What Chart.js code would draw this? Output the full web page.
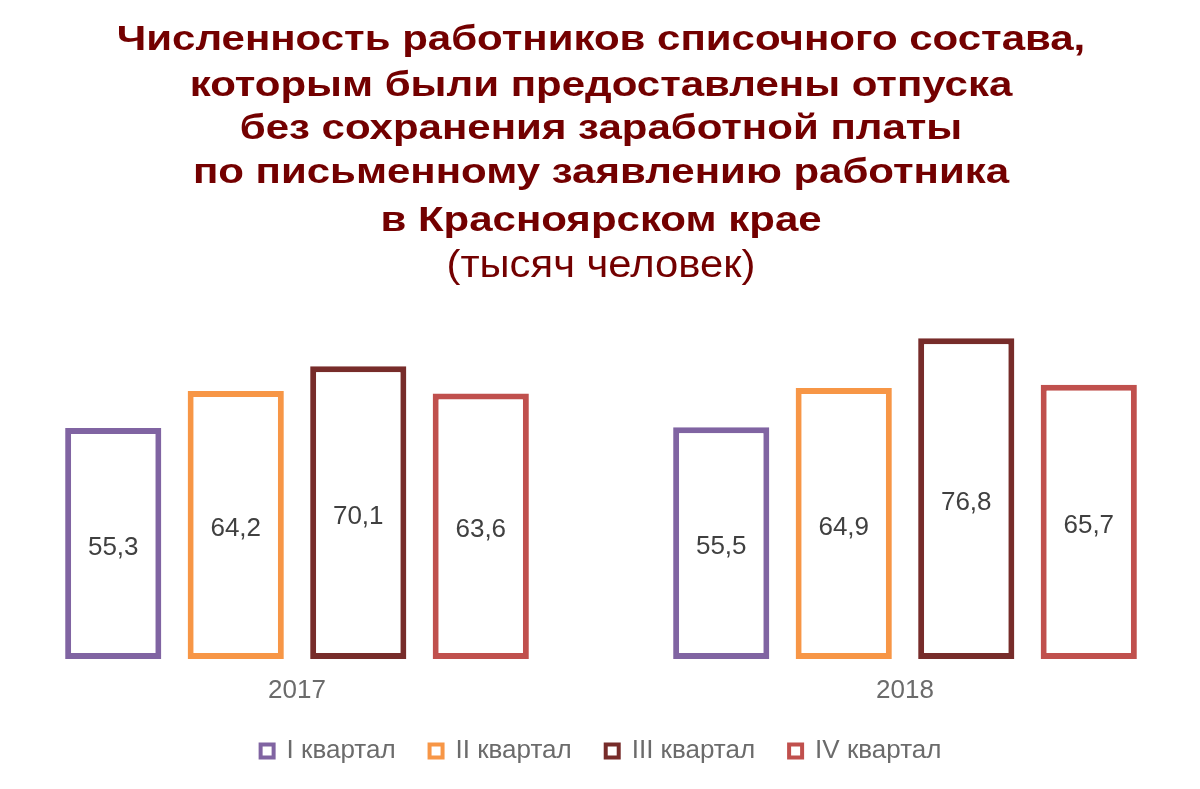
<!DOCTYPE html>
<html><head><meta charset="utf-8">
<script src="https://cdn.jsdelivr.net/npm/chart.js@4/dist/chart.umd.min.js"></script>
<style>
html,body{margin:0;padding:0;background:#fff;overflow:hidden;width:1200px;height:789px;}
#wrap{position:absolute;left:-7px;top:0;width:1216px;height:789px;}
</style></head><body>
<div id="wrap"><canvas id="c"></canvas></div>
<script>
const years = ['2017', '2018'];
const seriesNames = ['I квартал', 'II квартал', 'III квартал', 'IV квартал'];
const q1 = [55.3, 55.5];
const q2 = [64.2, 64.9];
const q3 = [70.1, 76.8];
const q4 = [63.6, 65.7];
const colors = ['#8064A2', '#F79646', '#772C2A', '#C0504D'];
const titleLines = ['Численность работников списочного состава,', 'которым были предоставлены отпуска', 'без сохранения заработной платы', 'по письменному заявлению работника', 'в Красноярском крае'];
const subtitleText = '(тысяч человек)';

const FONT = '"Liberation Sans", Arial, sans-serif';
const values = [q1, q2, q3, q4];
const datasets = values.map((v, i) => ({
  label: seriesNames[i],
  data: v,
  backgroundColor: '#ffffff',
  borderColor: colors[i],
  borderWidth: 6,
  borderSkipped: false,
  barPercentage: 0.785,
  categoryPercentage: 0.806
}));

const titlePlugin = {
  id: 'stretchedTitle',
  afterDraw(chart) {
    const ctx = chart.ctx;
    const cx = chart.width / 2;
    ctx.save();
    ctx.fillStyle = '#730000';
    ctx.textAlign = 'center';
    ctx.textBaseline = 'alphabetic';
    ctx.font = 'bold 35px ' + FONT;
    const baselines = [50, 96, 139, 183, 231];
    titleLines.forEach((line, i) => {
      ctx.save();
      ctx.translate(cx, baselines[i]);
      ctx.scale(1.2, 1);
      ctx.fillText(line, 0, 0);
      ctx.restore();
    });
    ctx.font = '38px ' + FONT;
    ctx.save();
    ctx.translate(cx, 277);
    ctx.scale(1.1, 1);
    ctx.fillText(subtitleText, 0, 0);
    ctx.restore();
    ctx.restore();
  }
};

const labelPlugin = {
  id: 'valueLabels',
  afterDatasetsDraw(chart) {
    const ctx = chart.ctx;
    ctx.save();
    ctx.font = '26px ' + FONT;
    ctx.fillStyle = '#404040';
    ctx.textAlign = 'center';
    ctx.textBaseline = 'middle';
    chart.data.datasets.forEach((ds, i) => {
      const meta = chart.getDatasetMeta(i);
      meta.data.forEach((bar, j) => {
        const y = (bar.y + bar.base) / 2;
        ctx.fillText(ds.data[j].toFixed(1).replace('.', ','), bar.x, y + 4);
      });
    });
    ctx.restore();
  }
};

new Chart(document.getElementById('c'), {
  type: 'bar',
  data: { labels: years, datasets },
  options: {
    responsive: true,
    maintainAspectRatio: false,
    animation: false,
    layout: { padding: { top: 325, bottom: 15, left: 0, right: 0 } },
    plugins: {
      title: { display: false },
      legend: {
        position: 'bottom',
        labels: {
          color: '#6b6b6b',
          font: { family: FONT, size: 26 },
          boxWidth: 13,
          boxHeight: 13,
          padding: 34,
          generateLabels(chart) {
            const items = Chart.defaults.plugins.legend.labels.generateLabels(chart);
            items.forEach(it => { it.lineWidth = 4; });
            return items;
          }
        }
      },
      tooltip: { enabled: false }
    },
    scales: {
      x: {
        grid: { display: false, drawTicks: false },
        border: { display: false },
        ticks: { color: '#6b6b6b', font: { family: FONT, size: 26 }, padding: 16 },
        afterFit(scale) { scale.height = 45; }
      },
      y: {
        display: false,
        min: 0,
        max: 80
      }
    }
  },
  plugins: [labelPlugin, titlePlugin]
});
</script>
</body></html>
